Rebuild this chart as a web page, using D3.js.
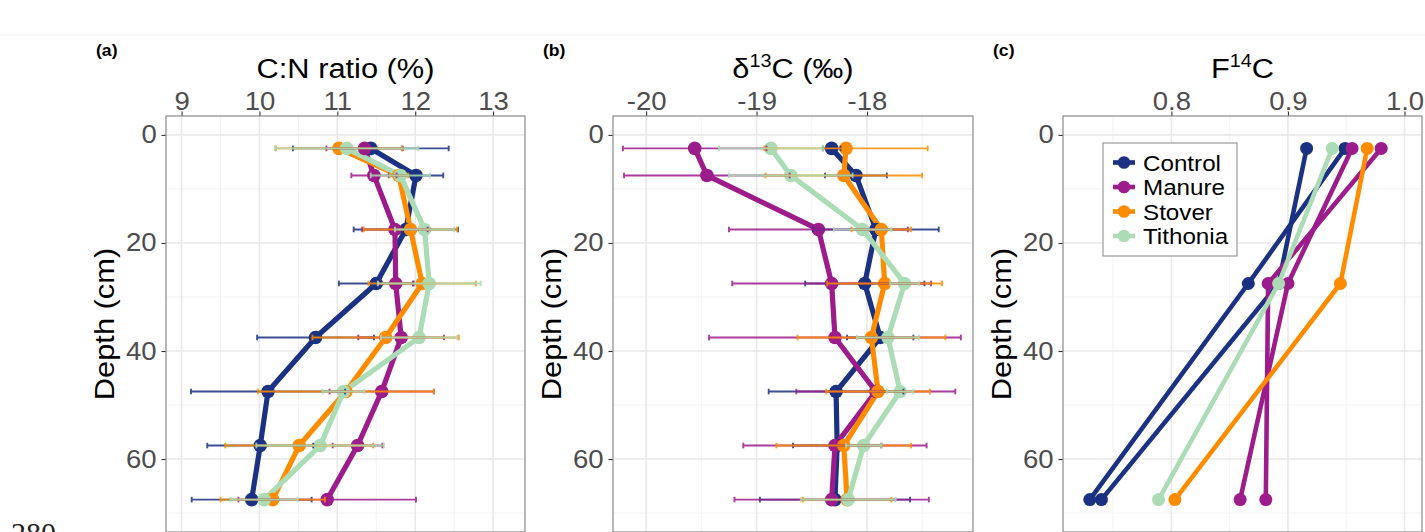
<!DOCTYPE html>
<html>
<head>
<meta charset="utf-8">
<script src="https://cdn.jsdelivr.net/npm/d3@7"></script>
<style>
  body { margin: 0; background: #fff; }
  svg { display: block; font-family: "Liberation Sans", Arial, sans-serif; }
</style>
</head>
<body>
<svg id="chart" width="1425" height="532"></svg>
<script>
// treatments and colours
const treatments = ["Control", "Manure", "Stover", "Tithonia"];
const colors = ["#1b3181", "#9c1c8b", "#ff8c00", "#abdcb5"];

// sampling depths (cm) for panels a and b
const depths = [2.5, 7.5, 17.5, 27.5, 37.5, 47.5, 57.5, 67.5];

// (a) C:N ratio, mean and error per treatment
const cnControl  = [11.43, 12.01, 11.88, 11.50, 10.72, 10.11, 10.01, 9.90];
const cnManure   = [11.35, 11.47, 11.74, 11.75, 11.82, 11.57, 11.26, 10.87];
const cnStover   = [11.02, 11.79, 11.94, 12.09, 11.62, 11.11, 10.51, 10.17];
const cnTithonia = [11.12, 11.81, 12.12, 12.18, 12.05, 11.08, 10.78, 10.06];
const cnErrControl  = [1.00, 0.35, 0.67, 0.48, 0.75, 0.99, 0.68, 0.77];
const cnErrManure   = [0.49, 0.29, 0.42, 0.22, 0.55, 0.67, 0.32, 1.14];
const cnErrStover   = [0.81, 0.12, 0.60, 0.69, 0.94, 1.13, 0.95, 0.67];
const cnErrTithonia = [0.92, 0.38, 0.38, 0.66, 0.49, 0.27, 0.82, 0.43];

// (b) delta 13C, mean and error per treatment
const dcControl  = [-18.32, -18.10, -17.92, -18.02, -17.88, -18.28, -18.27, -18.29];
const dcManure   = [-19.56, -19.45, -18.44, -18.32, -18.29, -17.92, -18.29, -18.32];
const dcStover   = [-18.19, -18.21, -17.87, -17.84, -17.96, -17.90, -18.21, -18.18];
const dcTithonia = [-18.87, -18.69, -18.04, -17.66, -17.81, -17.70, -18.03, -18.17];
const dcErrControl  = [0.08, 0.28, 0.57, 0.54, 0.30, 0.61, 0.40, 0.68];
const dcErrManure   = [0.65, 0.75, 0.81, 0.90, 1.14, 0.72, 0.83, 0.88];
const dcErrStover   = [0.74, 0.71, 0.27, 0.52, 0.67, 0.47, 0.61, 0.40];
const dcErrTithonia = [0.47, 0.56, 0.26, 0.13, 0.28, 0.12, 0.16, 0.43];

// (c) F14C, one profile per core
const fDepths = [2.5, 27.5, 67.5];
const fControl  = [[0.916, 0.892, 0.740], [0.949, 0.866, 0.730]];
const fManure   = [[0.955, 0.900, 0.859], [0.980, 0.883, 0.881]];
const fStover   = [[0.968, 0.945, 0.803]];
const fTithonia = [[0.938, 0.892, 0.789]];

// tick labels
const depthTicks = [0, 20, 40, 60];
const depthMinor = [10, 30, 50, 70];
const cnTicks = [9, 10, 11, 12, 13];
const dcTicks = [-20, -19, -18];
const fTicks = [0.8, 0.9, 1.0];

const svg = d3.select("#chart");
const SX = 1.1; // text in the figure is slightly wide

const plotTop = 116, plotBottom = 532;
const y = d3.scaleLinear().domain([-3.5, 73.5]).range([plotTop, plotBottom]);

function addText(parent, x, y0, str, size, opts = {}) {
  const t = parent.append("text")
    .attr("transform", `translate(${x},${y0}) scale(${SX},1)`)
    .attr("font-size", size)
    .attr("fill", opts.fill || "#000")
    .attr("text-anchor", opts.anchor || "start")
    .attr("font-weight", opts.weight || "normal");
  if (typeof str === "string") t.text(str);
  return t;
}

// faint page line at top
svg.append("line").attr("x1", 0).attr("x2", 1425).attr("y1", 35).attr("y2", 35)
  .attr("stroke", "#f2f2f2").attr("stroke-width", 1);

function makePanel(cfg) {
  const g = svg.append("g");
  const x = d3.scaleLinear().domain(cfg.domain).range([cfg.x0, cfg.x1]);

  // grid
  g.selectAll(".vminor").data(cfg.minor).enter().append("line")
    .attr("x1", d => x(d)).attr("x2", d => x(d)).attr("y1", plotTop).attr("y2", plotBottom)
    .attr("stroke", "#f2f2f2").attr("stroke-width", 0.9);
  g.selectAll(".hminor").data(depthMinor).enter().append("line")
    .attr("x1", cfg.x0).attr("x2", cfg.x1).attr("y1", d => y(d)).attr("y2", d => y(d))
    .attr("stroke", "#f2f2f2").attr("stroke-width", 0.9);
  g.selectAll(".vmajor").data(cfg.ticks).enter().append("line")
    .attr("x1", d => x(d)).attr("x2", d => x(d)).attr("y1", plotTop).attr("y2", plotBottom)
    .attr("stroke", "#e9e9e9").attr("stroke-width", 1.6);
  g.selectAll(".hmajor").data(depthTicks).enter().append("line")
    .attr("x1", cfg.x0).attr("x2", cfg.x1).attr("y1", d => y(d)).attr("y2", d => y(d))
    .attr("stroke", "#e9e9e9").attr("stroke-width", 1.6);

  // axes
  const xa = g.append("g").attr("transform", `translate(0,${plotTop})`)
    .call(d3.axisTop(x).tickValues(cfg.ticks).tickFormat(cfg.fmt).tickSize(4.5).tickPadding(2));
  const ya = g.append("g").attr("transform", `translate(${cfg.x0},0)`)
    .call(d3.axisLeft(y).tickValues(depthTicks).tickFormat(d => String(d)).tickSize(4.5).tickPadding(4));
  [xa, ya].forEach(a => {
    a.select(".domain").remove();
    a.selectAll(".tick line").attr("stroke", "#333").attr("stroke-width", 1.1);
    a.selectAll(".tick text").attr("fill", "#4d4d4d").attr("font-size", 25)
      .attr("font-family", "Liberation Sans, Arial, sans-serif")
      .attr("transform", `scale(${SX},1)`);
  });

  // labels
  addText(svg, cfg.x0 - 70, 56, cfg.tag, 16, { weight: "bold" });
  const title = addText(svg, (cfg.x0 + cfg.x1) / 2, 78, null, 28, { anchor: "middle" });
  cfg.title(title);
  svg.append("text")
    .attr("transform", `translate(${cfg.x0 - 52},${(plotTop + plotBottom) / 2}) rotate(-90) scale(${SX},1)`)
    .attr("text-anchor", "middle").attr("font-size", 28).text("Depth (cm)");

  const layer = svg.append("g");
  // border drawn last so it sits on top of grid
  svg.append("rect").attr("x", cfg.x0).attr("y", plotTop)
    .attr("width", cfg.x1 - cfg.x0).attr("height", plotBottom - plotTop)
    .attr("fill", "none").attr("stroke", "#8a8a8a").attr("stroke-width", 1.2);
  return { layer, x };
}

function drawProfiles(p, means, errs) {
  const line = d3.line().x(d => p.x(d.v)).y(d => y(d.d));
  const series = means.map((m, i) => m.map((v, j) => ({ v, d: depths[j], e: errs[i][j] })));
  series.forEach((s, i) => {
    p.layer.append("path").datum(s).attr("d", line)
      .attr("fill", "none").attr("stroke", colors[i]).attr("stroke-width", 5.2)
      .attr("stroke-linejoin", "round");
  });
  series.forEach((s, i) => {
    p.layer.selectAll(null).data(s).enter().append("circle")
      .attr("cx", d => p.x(d.v)).attr("cy", d => y(d.d)).attr("r", 6.8)
      .attr("fill", colors[i]);
  });
  series.forEach((s, i) => {
    const eb = p.layer.append("g").attr("stroke", colors[i]).attr("stroke-width", 1.9).attr("opacity", 0.85);
    eb.selectAll(null).data(s).enter().append("line")
      .attr("x1", d => p.x(d.v - d.e)).attr("x2", d => p.x(d.v + d.e))
      .attr("y1", d => y(d.d)).attr("y2", d => y(d.d));
    [-1, 1].forEach(sg => {
      eb.selectAll(null).data(s).enter().append("line")
        .attr("x1", d => p.x(d.v + sg * d.e)).attr("x2", d => p.x(d.v + sg * d.e))
        .attr("y1", d => y(d.d) - 2.8).attr("y2", d => y(d.d) + 2.8);
    });
  });
}

// panel (a)
const pa = makePanel({
  x0: 166, x1: 525, domain: [8.8, 13.41], ticks: cnTicks, minor: [9.5, 10.5, 11.5, 12.5],
  fmt: d => String(d), tag: "(a)",
  title: t => t.text("C:N ratio (%)")
});
drawProfiles(pa, [cnControl, cnManure, cnStover, cnTithonia],
  [cnErrControl, cnErrManure, cnErrStover, cnErrTithonia]);

// panel (b)
const pb = makePanel({
  x0: 613, x1: 973, domain: [-20.30, -17.04], ticks: dcTicks, minor: [-19.5, -18.5, -17.5],
  fmt: d => String(d), tag: "(b)",
  title: t => {
    t.append("tspan").text("\u03B4");
    t.append("tspan").attr("font-size", 18).attr("dy", -11).text("13");
    t.append("tspan").attr("dy", 11).text("C (\u2030)");
  }
});
drawProfiles(pb, [dcControl, dcManure, dcStover, dcTithonia],
  [dcErrControl, dcErrManure, dcErrStover, dcErrTithonia]);

// panel (c)
const pc = makePanel({
  x0: 1063, x1: 1422, domain: [0.707, 1.015], ticks: fTicks, minor: [0.75, 0.85, 0.95],
  fmt: d => d.toFixed(1), tag: "(c)",
  title: t => {
    t.append("tspan").text("F");
    t.append("tspan").attr("font-size", 18).attr("dy", -11).text("14");
    t.append("tspan").attr("dy", 11).text("C");
  }
});
const fLine = d3.line().x(d => pc.x(d.v)).y(d => y(d.d));
[fControl, fManure, fStover, fTithonia].forEach((cores, i) => {
  cores.forEach(core => {
    const pts = core.map((v, j) => ({ v, d: fDepths[j] }));
    pc.layer.append("path").datum(pts).attr("d", fLine)
      .attr("fill", "none").attr("stroke", colors[i]).attr("stroke-width", 4.6)
      .attr("stroke-linejoin", "round");
    pc.layer.selectAll(null).data(pts).enter().append("circle")
      .attr("cx", d => pc.x(d.v)).attr("cy", d => y(d.d)).attr("r", 6.5)
      .attr("fill", colors[i]);
  });
});

// legend
const lg = svg.append("g");
lg.append("rect").attr("x", 1103).attr("y", 143).attr("width", 134).attr("height", 113)
  .attr("fill", "#fff").attr("stroke", "#9a9a9a").attr("stroke-width", 1.2);
treatments.forEach((name, i) => {
  const yy = 162.5 + i * 24.5;
  lg.append("line").attr("x1", 1113).attr("x2", 1135).attr("y1", yy).attr("y2", yy)
    .attr("stroke", colors[i]).attr("stroke-width", 4.6);
  lg.append("circle").attr("cx", 1124).attr("cy", yy).attr("r", 6.3).attr("fill", colors[i]);
  addText(lg, 1143, yy + 8, name, 22);
});

// page number remnant at the bottom edge (cut off in the source image)
svg.append("text").attr("x", 11).attr("y", 543).attr("font-size", 30)
  .attr("font-family", "Liberation Serif, Times New Roman, serif").attr("fill", "#222").text("280");
</script>
</body>
</html>
